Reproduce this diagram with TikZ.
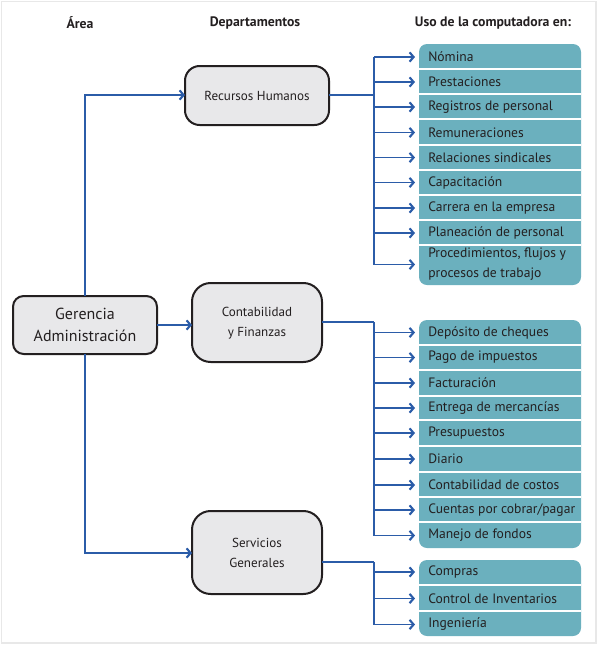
\documentclass[tikz,border=0pt]{standalone}
\usepackage{fontspec}
\setmainfont{PT Sans}
\usetikzlibrary{arrows.meta}
\definecolor{lineblue}{HTML}{2B5CA8}
\definecolor{tealfill}{HTML}{6BB0BE}
\definecolor{boxgray}{HTML}{E8E8EA}
\definecolor{framegray}{HTML}{E8E8E8}
\definecolor{txt}{HTML}{231F20}
\tikzset{
  px/.style={x=0.75pt,y=-0.75pt},
  dept/.style={draw=txt,line width=1.5pt,fill=boxgray,rounded corners=#1},
  dept/.default=11pt,
  conn/.style={draw=lineblue,line width=1pt},
  arr/.style={conn,-{Straight Barb[length=3pt,width=7pt,line width=1.6pt]}},
  item/.style={anchor=west,inner sep=0pt,text=txt,font=\fontsize{10.2pt}{12pt}\selectfont},
  head/.style={inner sep=0pt,text=txt,font=\bfseries\fontsize{10.3pt}{12pt}\selectfont},
  dtext/.style={inner sep=0pt,text=txt,align=center,font=\fontsize{9.8pt}{15pt}\selectfont},
  sep/.style={draw=white,line width=1.5pt},
  group/.style={fill=tealfill,rounded corners=6pt},
}
\begin{document}
\begin{tikzpicture}[px]
\useasboundingbox (0,0) rectangle (600,647);
\draw[framegray,line width=0.8pt] (1.5,1.5) rectangle (596,643);

% headers
\node[head] (hA) at (80,23) {Área};
\node[head] (hD) at (255,23) {Departamentos};
\node[head] (hU) at (493,23) {Uso de la computadora en:};

% area box
\path[dept=8pt] (13,296) rectangle (157,354);
\node[inner sep=0pt,text=txt,align=center,font=\fontsize{12pt}{16pt}\selectfont] (ger) at (85,325) {Gerencia\\Administración};
\coordinate (gerT) at (85,296);
\coordinate (gerB) at (85,354);
\coordinate (gerR) at (157,325);

% department boxes
\path[dept=11pt] (185,66) rectangle (329,125);
\node[dtext] (rh) at (257,95.5) {Recursos Humanos};
\coordinate (rhL) at (185,95);
\coordinate (rhR) at (329,95);

\path[dept=14pt] (192,283) rectangle (322,362);
\node[dtext] (cf) at (257,323) {Contabilidad\\y Finanzas};
\coordinate (cfL) at (192,325);
\coordinate (cfR) at (322,322);

\path[dept=14pt] (192,511) rectangle (322,594);
\node[dtext] (sg) at (257,553) {Servicios\\Generales};
\coordinate (sgL) at (192,553);
\coordinate (sgR) at (322,562);

% area connectors
\coordinate (t1) at (85,95);
\coordinate (t3) at (85,553);
\draw[arr] (gerT) -- (t1) -- (rhL);
\draw[arr] (gerB) -- (t3) -- (sgL);
\draw[arr] (gerR) -- (cfL);

% teal groups
\path[group] (419,44) rectangle (581,285);
\path[group] (419,320) rectangle (581,548);
\path[group] (419,560) rectangle (581,636);
\foreach \y in {69,94,119,145,170,195,220,245,345,370,396,420,446,472,497,522,585,611}
  \draw[sep] (419,\y) -- (581,\y);

% group 1 items
\foreach \n/\y/\t in {a1/57/{Nómina},a2/82/{Prestaciones},a3/107/{Registros de personal},a4/132.5/{Remuneraciones},a5/157.5/{Relaciones sindicales},a6/182.5/{Capacitación},a7/208/{Carrera en la empresa},a8/233/{Planeación de personal}}
  \node[item] (\n) at (428,\y) {\t};
\node[item,align=left,font=\fontsize{10.2pt}{15pt}\selectfont] (a9) at (428,264.5) {Procedimientos, flujos y\\procesos de trabajo};

% group 2 items
\foreach \n/\y/\t in {b1/332.5/{Depósito de cheques},b2/357.5/{Pago de impuestos},b3/383/{Facturación},b4/408/{Entrega de mercancías},b5/433/{Presupuestos},b6/459/{Diario},b7/485/{Contabilidad de costos},b8/510/{Cuentas por cobrar/pagar},b9/535.5/{Manejo de fondos}}
  \node[item] (\n) at (428,\y) {\t};

% group 3 items
\foreach \n/\y/\t in {c1/572/{Compras},c2/598.5/{Control de Inventarios},c3/624.5/{Ingeniería}}
  \node[item] (\n) at (428,\y) {\t};

% branch trunks
\coordinate (k1) at (374,95);
\coordinate (k2) at (374,322);
\coordinate (k3) at (374,562);
\draw[conn] (rhR) -- (k1);
\draw[conn] (cfR) -- (k2);
\draw[conn] (sgR) -- (k3);
\draw[conn] (374,57) -- (374,264.5);
\draw[conn] (k2) -- (374,535.5);
\draw[conn] (k3) -- (374,624.5);
\foreach \n in {a1,a2,a3,a4,a5,a6,a7,a8,a9,b1,b2,b3,b4,b5,b6,b7,b8,b9,c1,c2,c3}
  \draw[arr] (374,0 |- \n.west) -- ([xshift=-3pt]\n.west -| 419,0);
\end{tikzpicture}
\end{document}
